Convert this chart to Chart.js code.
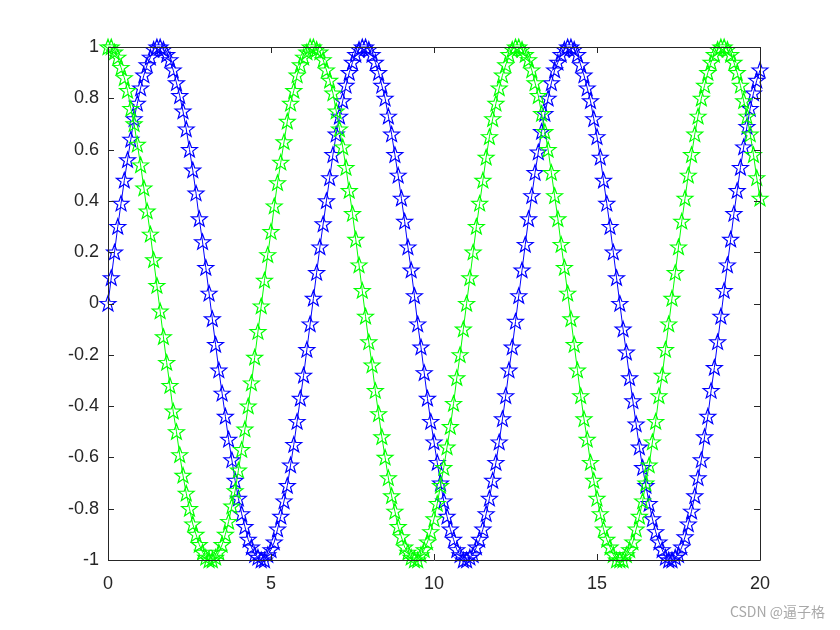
<!DOCTYPE html>
<html>
<head>
<meta charset="utf-8">
<script src="https://cdn.jsdelivr.net/npm/chart.js@4/dist/chart.umd.min.js"></script>
<style>
  html, body { margin: 0; padding: 0; background: #fff; }
  #wrap { width: 840px; height: 630px; }
</style>
</head>
<body>
<div id="wrap"><canvas id="c" width="840" height="630"></canvas></div>
<script>
"use strict";

// x = 0 : 0.1 : 20 (sin in blue, cos in green)
const xs = [
  0.0, 0.1, 0.2, 0.3, 0.4, 0.5, 0.6, 0.7, 0.8, 0.9,
  1.0, 1.1, 1.2, 1.3, 1.4, 1.5, 1.6, 1.7, 1.8, 1.9,
  2.0, 2.1, 2.2, 2.3, 2.4, 2.5, 2.6, 2.7, 2.8, 2.9,
  3.0, 3.1, 3.2, 3.3, 3.4, 3.5, 3.6, 3.7, 3.8, 3.9,
  4.0, 4.1, 4.2, 4.3, 4.4, 4.5, 4.6, 4.7, 4.8, 4.9,
  5.0, 5.1, 5.2, 5.3, 5.4, 5.5, 5.6, 5.7, 5.8, 5.9,
  6.0, 6.1, 6.2, 6.3, 6.4, 6.5, 6.6, 6.7, 6.8, 6.9,
  7.0, 7.1, 7.2, 7.3, 7.4, 7.5, 7.6, 7.7, 7.8, 7.9,
  8.0, 8.1, 8.2, 8.3, 8.4, 8.5, 8.6, 8.7, 8.8, 8.9,
  9.0, 9.1, 9.2, 9.3, 9.4, 9.5, 9.6, 9.7, 9.8, 9.9,
  10.0, 10.1, 10.2, 10.3, 10.4, 10.5, 10.6, 10.7, 10.8, 10.9,
  11.0, 11.1, 11.2, 11.3, 11.4, 11.5, 11.6, 11.7, 11.8, 11.9,
  12.0, 12.1, 12.2, 12.3, 12.4, 12.5, 12.6, 12.7, 12.8, 12.9,
  13.0, 13.1, 13.2, 13.3, 13.4, 13.5, 13.6, 13.7, 13.8, 13.9,
  14.0, 14.1, 14.2, 14.3, 14.4, 14.5, 14.6, 14.7, 14.8, 14.9,
  15.0, 15.1, 15.2, 15.3, 15.4, 15.5, 15.6, 15.7, 15.8, 15.9,
  16.0, 16.1, 16.2, 16.3, 16.4, 16.5, 16.6, 16.7, 16.8, 16.9,
  17.0, 17.1, 17.2, 17.3, 17.4, 17.5, 17.6, 17.7, 17.8, 17.9,
  18.0, 18.1, 18.2, 18.3, 18.4, 18.5, 18.6, 18.7, 18.8, 18.9,
  19.0, 19.1, 19.2, 19.3, 19.4, 19.5, 19.6, 19.7, 19.8, 19.9,
  20.0
];

const sinVals = [
  0.00, 0.10, 0.20, 0.30, 0.39, 0.48, 0.56, 0.64, 0.72, 0.78,
  0.84, 0.89, 0.93, 0.96, 0.99, 1.00, 1.00, 0.99, 0.97, 0.95,
  0.91, 0.86, 0.81, 0.75, 0.68, 0.60, 0.52, 0.43, 0.33, 0.24,
  0.14, 0.04, -0.06, -0.16, -0.26, -0.35, -0.44, -0.53, -0.61, -0.69,
  -0.76, -0.82, -0.87, -0.92, -0.95, -0.98, -0.99, -1.00, -1.00, -0.98,
  -0.96, -0.93, -0.88, -0.83, -0.77, -0.71, -0.63, -0.55, -0.46, -0.37,
  -0.28, -0.18, -0.08, 0.02, 0.12, 0.22, 0.31, 0.40, 0.49, 0.58,
  0.66, 0.73, 0.79, 0.85, 0.90, 0.94, 0.97, 0.99, 1.00, 1.00,
  0.99, 0.97, 0.94, 0.90, 0.85, 0.80, 0.73, 0.66, 0.58, 0.50,
  0.41, 0.32, 0.22, 0.13, 0.03, -0.08, -0.17, -0.27, -0.37, -0.46,
  -0.54, -0.62, -0.70, -0.77, -0.83, -0.88, -0.92, -0.96, -0.98, -1.00,
  -1.00, -0.99, -0.98, -0.95, -0.92, -0.88, -0.82, -0.76, -0.69, -0.62,
  -0.54, -0.45, -0.36, -0.26, -0.17, -0.07, 0.03, 0.13, 0.23, 0.33,
  0.42, 0.51, 0.59, 0.67, 0.74, 0.80, 0.86, 0.91, 0.94, 0.97,
  0.99, 1.00, 1.00, 0.99, 0.97, 0.93, 0.89, 0.84, 0.79, 0.72,
  0.65, 0.57, 0.48, 0.39, 0.30, 0.20, 0.10, 0.00, -0.10, -0.19,
  -0.29, -0.38, -0.47, -0.56, -0.64, -0.71, -0.78, -0.84, -0.89, -0.93,
  -0.96, -0.99, -1.00, -1.00, -0.99, -0.98, -0.95, -0.91, -0.86, -0.81,
  -0.75, -0.68, -0.61, -0.52, -0.44, -0.34, -0.25, -0.15, -0.05, 0.05,
  0.15, 0.25, 0.35, 0.44, 0.53, 0.61, 0.69, 0.76, 0.82, 0.87,
  0.91
];

const cosVals = [
  1.00, 1.00, 0.98, 0.96, 0.92, 0.88, 0.83, 0.76, 0.70, 0.62,
  0.54, 0.45, 0.36, 0.27, 0.17, 0.07, -0.03, -0.13, -0.23, -0.32,
  -0.42, -0.50, -0.59, -0.67, -0.74, -0.80, -0.86, -0.90, -0.94, -0.97,
  -0.99, -1.00, -1.00, -0.99, -0.97, -0.94, -0.90, -0.85, -0.79, -0.73,
  -0.65, -0.57, -0.49, -0.40, -0.31, -0.21, -0.11, -0.01, 0.09, 0.19,
  0.28, 0.38, 0.47, 0.55, 0.63, 0.71, 0.78, 0.83, 0.89, 0.93,
  0.96, 0.98, 1.00, 1.00, 0.99, 0.98, 0.95, 0.91, 0.87, 0.82,
  0.75, 0.68, 0.61, 0.53, 0.44, 0.35, 0.25, 0.15, 0.05, -0.05,
  -0.15, -0.24, -0.34, -0.43, -0.52, -0.60, -0.68, -0.75, -0.81, -0.87,
  -0.91, -0.95, -0.97, -0.99, -1.00, -1.00, -0.98, -0.96, -0.93, -0.89,
  -0.84, -0.78, -0.71, -0.64, -0.56, -0.48, -0.39, -0.29, -0.20, -0.10,
  0.00, 0.10, 0.20, 0.30, 0.39, 0.48, 0.57, 0.65, 0.72, 0.78,
  0.84, 0.89, 0.93, 0.97, 0.99, 1.00, 1.00, 0.99, 0.97, 0.95,
  0.91, 0.86, 0.81, 0.74, 0.67, 0.60, 0.51, 0.42, 0.33, 0.23,
  0.14, 0.04, -0.06, -0.16, -0.26, -0.36, -0.45, -0.53, -0.62, -0.69,
  -0.76, -0.82, -0.88, -0.92, -0.95, -0.98, -1.00, -1.00, -1.00, -0.98,
  -0.96, -0.93, -0.88, -0.83, -0.77, -0.70, -0.63, -0.54, -0.46, -0.36,
  -0.28, -0.18, -0.08, 0.02, 0.12, 0.22, 0.32, 0.41, 0.50, 0.58,
  0.66, 0.73, 0.80, 0.85, 0.90, 0.94, 0.97, 0.99, 1.00, 1.00,
  0.99, 0.97, 0.94, 0.90, 0.85, 0.79, 0.73, 0.66, 0.58, 0.49,
  0.41
];

const xTicks = [0, 5, 10, 15, 20];
const yTicks = [-1, -0.8, -0.6, -0.4, -0.2, 0, 0.2, 0.4, 0.6, 0.8, 1];

const BLUE = "#0000ff";
const GREEN = "#00ff00";
const AXIS = "#262626";
const FONT = "Arial, 'Liberation Sans', sans-serif";

const toPoints = (ys) => xs.map((x, i) => ({ x: x, y: ys[i] }));

// MATLAB 'p' marker: outlined pentagram centred on each point element
function strokeStar(ctx, x, y) {
  const ro = 8.3, ri = 3.4;
  ctx.moveTo(x, y - ro + 0.5);
  for (let i = 1; i < 10; i++) {
    const r = i % 2 === 0 ? ro : ri;
    const a = -Math.PI / 2 + (i * Math.PI) / 5;
    ctx.lineTo(x + r * Math.cos(a), y + 0.5 + r * Math.sin(a));
  }
  ctx.closePath();
}

// Stars are drawn per dataset from the line's own point elements, so
// positions always come from the chart scales.
const starMarkers = {
  id: "starMarkers",
  afterDatasetDraw(chart, args) {
    const ds = chart.data.datasets[args.index];
    const ctx = chart.ctx;
    ctx.save();
    ctx.strokeStyle = ds.borderColor;
    ctx.lineWidth = 1.2;
    ctx.lineJoin = "miter";
    for (const pt of args.meta.data) {
      ctx.beginPath();
      strokeStar(ctx, pt.x, pt.y);
      ctx.stroke();
    }
    ctx.restore();
  },
};

// Box on, ticks pointing inward on all four sides, plus the page watermark
const matlabAxes = {
  id: "matlabAxes",
  afterDatasetsDraw(chart) {
    const { ctx, chartArea: a, scales } = chart;
    const len = 6;
    ctx.save();
    ctx.strokeStyle = AXIS;
    ctx.lineWidth = 1;
    ctx.beginPath();
    ctx.rect(Math.round(a.left) + 0.5, Math.round(a.top) + 0.5,
      Math.round(a.right - a.left), Math.round(a.bottom - a.top));
    for (const v of xTicks) {
      const px = Math.round(scales.x.getPixelForValue(v)) + 0.5;
      ctx.moveTo(px, a.bottom); ctx.lineTo(px, a.bottom - len);
      ctx.moveTo(px, a.top); ctx.lineTo(px, a.top + len);
    }
    for (const v of yTicks) {
      const py = Math.round(scales.y.getPixelForValue(v)) + 0.5;
      ctx.moveTo(a.left, py); ctx.lineTo(a.left + len, py);
      ctx.moveTo(a.right, py); ctx.lineTo(a.right - len, py);
    }
    ctx.stroke();
    ctx.restore();
  },
  afterDraw(chart) {
    const ctx = chart.ctx;
    ctx.save();
    ctx.fillStyle = "#a8a8a8";
    ctx.font = "14px 'Noto Sans CJK SC', Arial, sans-serif";
    ctx.textAlign = "right";
    ctx.textBaseline = "middle";
    ctx.fillText("CSDN @逼子格", 825, 612);
    ctx.restore();
  },
};

new Chart(document.getElementById("c"), {
  type: "line",
  data: {
    datasets: [
      {
        label: "sin",
        data: toPoints(sinVals),
        borderColor: BLUE,
        borderWidth: 1,
        pointRadius: 0,
        clip: false,
        tension: 0,
        order: 1,
      },
      {
        label: "cos",
        data: toPoints(cosVals),
        borderColor: GREEN,
        borderWidth: 1,
        pointRadius: 0,
        clip: false,
        tension: 0,
        order: 0,
      },
    ],
  },
  options: {
    responsive: false,
    animation: false,
    events: [],
    layout: { padding: { left: 0, top: 47, right: 80, bottom: 0 } },
    plugins: { legend: { display: false }, tooltip: { enabled: false } },
    scales: {
      x: {
        type: "linear",
        min: 0,
        max: 20,
        afterBuildTicks: (s) => { s.ticks = xTicks.map((v) => ({ value: v })); },
        afterFit: (s) => { s.height = 70; },
        grid: { display: false, drawTicks: false },
        border: { display: false },
        ticks: { color: AXIS, font: { family: FONT, size: 18 }, padding: 13, maxRotation: 0, callback: (v) => String(v) },
      },
      y: {
        type: "linear",
        min: -1,
        max: 1,
        afterBuildTicks: (s) => { s.ticks = yTicks.map((v) => ({ value: v })); },
        afterFit: (s) => { s.width = 108; },
        grid: { display: false, drawTicks: false },
        border: { display: false },
        ticks: { color: AXIS, font: { family: FONT, size: 18 }, padding: 9, callback: (v) => String(v) },
      },
    },
  },
  plugins: [starMarkers, matlabAxes],
});
</script>
</body>
</html>
